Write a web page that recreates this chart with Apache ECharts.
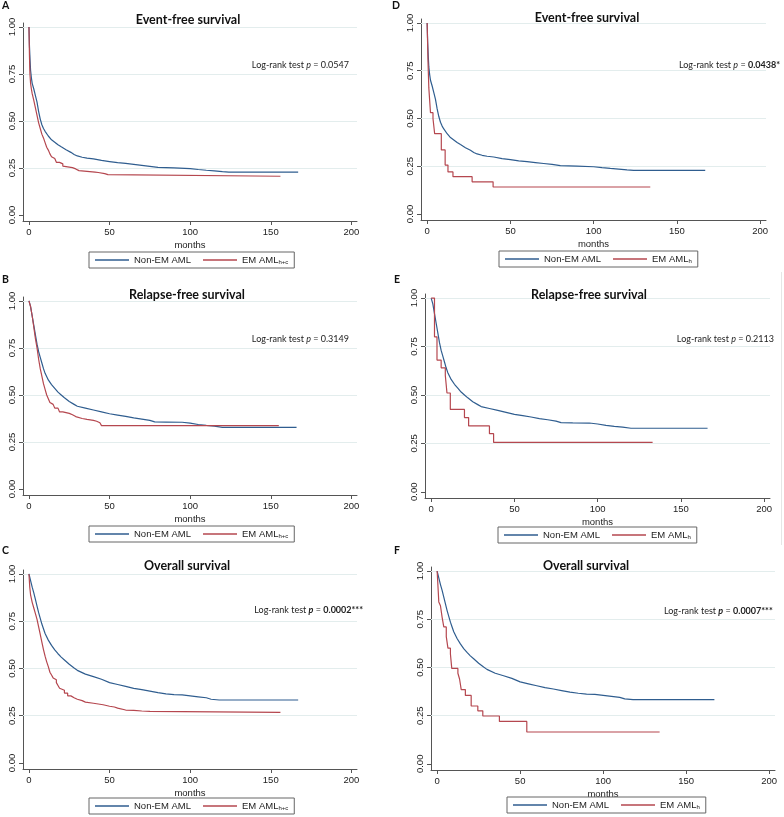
<!DOCTYPE html>
<html><head><meta charset="utf-8">
<script src="https://cdn.jsdelivr.net/npm/echarts@6/dist/echarts.min.js"></script>
<style>html,body{margin:0;padding:0;background:#fff}#c{width:784px;height:817px}</style>
</head><body><div id="c"></div>
<script>
// ---- data (months, survival probability) ----
const xTicks = [0, 50, 100, 150, 200];
const yTicks = [0, 0.25, 0.5, 0.75, 1];
const gridLevels = [0.25, 0.5, 0.75, 1];

const efsNonEM = [[0,1],[0.3,0.9],[0.7,0.82],[1,0.77],[1.5,0.73],[2,0.70],[3,0.67],[4,0.635],[5,0.60],[6,0.55],[7,0.51],[8,0.48],[9,0.46],[10,0.445],[12,0.42],[14,0.40],[16,0.387],[18,0.374],[20,0.363],[23,0.347],[26,0.333],[28,0.322],[30,0.314],[33,0.307],[36,0.302],[40,0.298],[45,0.29],[50,0.284],[55,0.278],[60,0.274],[65,0.269],[70,0.264],[75,0.259],[80,0.253],[90,0.25],[100,0.247],[105,0.242],[110,0.238],[115,0.235],[120,0.231],[124,0.228],[167,0.228]];
const efsEMhc = [[0,1],[0.3,0.85],[0.6,0.75],[1,0.70],[1.5,0.67],[2,0.645],[3,0.61],[4,0.57],[5,0.53],[6,0.49],[7,0.46],[8,0.43],[9,0.41],[10,0.385],[11,0.36],[12,0.345],[13,0.325],[14,0.31],[15,0.30],[16,0.29],[17,0.28],[19,0.272],[21,0.26],[22,0.252],[27,0.245],[29,0.236],[31,0.228],[41,0.226],[43,0.22],[47,0.215],[49,0.206],[156,0.206]];
const efsEMh = [[0,1],[0.5,0.80],[1,0.66],[2,0.53],[3.5,0.50],[4.5,0.42],[8.5,0.335],[10.8,0.256],[12.5,0.22],[15.5,0.195],[27,0.168],[39.6,0.141],[134,0.141]];

const rfsNonEM = [[0,1],[1,0.97],[2,0.92],[3,0.87],[4,0.82],[5,0.77],[6,0.73],[7,0.70],[8,0.67],[9,0.64],[10,0.615],[12,0.58],[14,0.555],[16,0.535],[18,0.515],[20,0.50],[22,0.485],[25,0.465],[28,0.45],[30,0.44],[35,0.43],[40,0.42],[45,0.41],[50,0.40],[55,0.393],[60,0.386],[65,0.378],[70,0.372],[75,0.365],[78,0.357],[85,0.356],[95,0.355],[100,0.35],[105,0.343],[110,0.338],[115,0.334],[120,0.328],[166,0.328]];
const rfsEMhc = [[0,1],[1,0.97],[2,0.92],[3,0.86],[4,0.80],[5,0.75],[6,0.69],[7,0.64],[8,0.60],[9,0.56],[10,0.53],[11,0.50],[12,0.48],[13,0.46],[14,0.45],[15,0.44],[16,0.43],[18,0.42],[19,0.41],[21,0.402],[25,0.395],[27,0.385],[29,0.375],[33,0.37],[36,0.365],[40,0.36],[42,0.352],[44,0.345],[45,0.337],[155,0.337]];
const rfsEMh = [[0,1],[2,0.80],[3.5,0.68],[6,0.64],[8.5,0.60],[9.5,0.51],[11.5,0.425],[20,0.383],[22.5,0.34],[35,0.30],[37.5,0.255],[133,0.255]];

const osNonEM = [[0,1],[1,0.965],[2,0.93],[3,0.90],[4,0.865],[5,0.83],[6,0.795],[7,0.765],[8,0.735],[9,0.71],[10,0.685],[12,0.65],[14,0.622],[16,0.598],[18,0.578],[20,0.56],[22,0.545],[25,0.522],[28,0.502],[30,0.49],[35,0.47],[40,0.457],[45,0.443],[50,0.425],[55,0.415],[60,0.405],[65,0.395],[70,0.388],[75,0.38],[80,0.372],[85,0.366],[90,0.362],[95,0.36],[100,0.355],[105,0.35],[110,0.345],[113,0.337],[118,0.333],[167,0.333]];
const osEMhc = [[0,1],[0.5,0.93],[1,0.89],[2,0.85],[3,0.82],[4,0.79],[5,0.76],[6,0.72],[7,0.68],[8,0.64],[9,0.60],[10,0.565],[11,0.535],[12,0.51],[13,0.48],[14,0.465],[15,0.45],[16,0.44],[17,0.425],[18,0.41],[19,0.395],[20,0.385],[22,0.37],[24,0.355],[26,0.345],[28,0.337],[30,0.33],[33,0.322],[35,0.316],[40,0.312],[43,0.308],[46,0.30],[50,0.296],[53,0.29],[55,0.28],[60,0.278],[65,0.275],[70,0.273],[75,0.268],[156,0.268]];
const osEMh = [[0,1],[1,0.84],[2,0.82],[3,0.76],[4,0.71],[5.5,0.66],[6.5,0.60],[8,0.57],[8.8,0.495],[12.5,0.47],[13.5,0.44],[14.5,0.385],[17,0.355],[20.5,0.30],[24.5,0.275],[27.5,0.248],[37.5,0.22],[54,0.165],[134,0.165]];

const titles = ['Event-free survival', 'Relapse-free survival', 'Overall survival'];
const pTexts = ['Log-rank test {i|p} = 0.0547', 'Log-rank test {i|p} = 0.3149', 'Log-rank test {bi|p} = {b|0.0002***}',
                'Log-rank test {i|p} = {b|0.0438*}', 'Log-rank test {i|p} = 0.2113', 'Log-rank test {bi|p} = {b|0.0007***}'];
const panelLetters = ['A', 'B', 'C', 'D', 'E', 'F'];

// ---- layout ----
const BLUE = '#2f5d8f', RED = '#b5474f';
const panels = [
  {g:{left:23,top:23,width:334,height:198}, t:{x:183,y:8}, lab:[2,0], ann:[349,65,'right'], leg:[89,252], blue:efsNonEM, red:efsEMhc, rn:'EM AMLh+c', title:0},
  {g:{left:23,top:297,width:334,height:198}, t:{x:182,y:283}, lab:[2,274], ann:[349,339,'right'], leg:[89,526], blue:rfsNonEM, red:rfsEMhc, rn:'EM AMLh+c', title:1},
  {g:{left:23,top:570,width:334,height:199}, t:{x:182,y:554}, lab:[2,545], ann:[363,610,'right'], leg:[89,798], blue:osNonEM, red:osEMhc, rn:'EM AMLh+c', title:2},
  {g:{left:421,top:19,width:345,height:201}, t:{x:582,y:6}, lab:[392,0], ann:[780,65,'right'], leg:[499,251], blue:efsNonEM, red:efsEMh, rn:'EM AMLh', title:0},
  {g:{left:425,top:294,width:345,height:204}, t:{x:584,y:283}, lab:[394,274], ann:[774,339,'right'], leg:[498,527], blue:rfsNonEM, red:rfsEMh, rn:'EM AMLh', title:1},
  {g:{left:431,top:567,width:344,height:203}, t:{x:581,y:554}, lab:[394,545], ann:[664,611,'left'], leg:[507,797], blue:osNonEM, red:osEMh, rn:'EM AMLh', title:2}
];

const option = {
  animation: false,
  backgroundColor: '#fff',
  grid: [], xAxis: [], yAxis: [], series: [], title: [], legend: [], graphic: []
};
const axisCol = '#555';
const FS = 9;
panels.forEach((p, i) => {
  option.grid.push(Object.assign({containLabel:false}, p.g));
  option.xAxis.push({
    type:'value', gridIndex:i, min:-3.7, max:203.5,
    name:'months', nameLocation:'middle', nameGap:19,
    nameTextStyle:{fontFamily:'Liberation Sans', fontSize:9.5, color:'#222'},
    axisLine:{show:true, onZero:false, lineStyle:{color:axisCol, width:1}},
    axisTick:{show:true, length:4, lineStyle:{color:axisCol}, customValues:xTicks},
    axisLabel:{customValues:xTicks, fontFamily:'Liberation Sans', fontSize:9.5, color:'#222', margin:6, showMinLabel:true, showMaxLabel:true},
    splitLine:{show:false}
  });
  option.yAxis.push({
    type:'value', gridIndex:i, min:-0.032, max:1.021,
    axisLine:{show:true, onZero:false, lineStyle:{color:axisCol, width:1}},
    axisTick:{show:true, length:4, lineStyle:{color:axisCol}, customValues:yTicks},
    axisLabel:{customValues:yTicks, rotate:90, formatter:v=>v.toFixed(2), fontFamily:'Liberation Sans', fontSize:9.5, color:'#222', margin:6},
    splitLine:{show:false}
  });
  option.series.push({
    type:'line', name:'Non-EM AML', xAxisIndex:i, yAxisIndex:i, data:p.blue,
    symbol:'none', lineStyle:{color:BLUE, width:1.2}, itemStyle:{color:BLUE}, z:3,
    markLine:{silent:true, symbol:'none', label:{show:false}, z:1,
      lineStyle:{color:'#e3eded', width:1, type:'solid'},
      data: gridLevels.map(v=>({yAxis:v}))}
  });
  option.series.push({
    type:'line', name:p.rn, xAxisIndex:i, yAxisIndex:i, data:p.red, step:'end',
    symbol:'none', lineStyle:{color:RED, width:1.2}, itemStyle:{color:RED}, z:4
  });
  option.title.push({
    text: titles[p.title], left:p.t.x, top:p.t.y, textAlign:'center',
    textStyle:{fontFamily:'Lato', fontWeight:'bold', fontSize:12.5, color:'#111'}
  });
  option.legend.push({
    data:['Non-EM AML', p.rn], left:p.leg[0], top:p.leg[1], orient:'horizontal',
    icon:'rect', itemWidth:34, itemHeight:1.3, itemGap:12,
    borderColor:'#666', borderWidth:1, borderRadius:0, padding:[3,6,3,6],
    selectedMode:false,
    textStyle:{fontFamily:'Liberation Sans', fontSize:9.5, color:'#222',
      rich:{s:{fontFamily:'Liberation Sans', fontSize:6, color:'#222', verticalAlign:'bottom', padding:[4,0,0,0]}}},
    formatter: n => n === 'Non-EM AML' ? n : 'EM AML{s|' + n.slice(6) + '}'
  });
  option.graphic.push({
    type:'text', x:p.ann[0], y:p.ann[1], silent:true,
    style:{text:pTexts[i], font:FS+'px Lato', fill:'#222', align:p.ann[2], verticalAlign:'middle',
      rich:{i:{fontStyle:'italic', fontFamily:'Lato', fontSize:FS, fill:'#222'},
            bi:{fontStyle:'italic', fontWeight:'bold', fontFamily:'Lato', fontSize:FS, fill:'#222'},
            b:{fontWeight:'bold', fontFamily:'Lato', fontSize:FS, fill:'#222'}}}
  });
  option.graphic.push({
    type:'text', left:p.lab[0], top:p.lab[1], silent:true,
    style:{text:panelLetters[i], font:'bold 10.5px Lato', fill:'#111'}
  });
});
option.graphic.push({type:'line', silent:true, shape:{x1:781.5, y1:272, x2:781.5, y2:545}, style:{stroke:'#e6e6e6', lineWidth:1}});

const chart = echarts.init(document.getElementById('c'), null, {renderer:'canvas'});
chart.setOption(option);
</script></body></html>
